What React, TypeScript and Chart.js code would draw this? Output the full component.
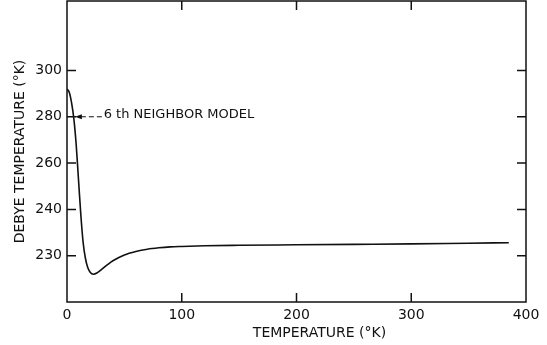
import React, { useEffect, useRef } from "react";
import { Chart, registerables } from "chart.js";

Chart.register(...registerables);

const temperatures = [0, 2, 4, 6, 8, 10, 12, 14, 16, 18, 20, 23, 26, 30, 35, 40, 50, 60, 70, 80, 90, 100, 120, 150, 200, 250, 300, 350, 385];
const debyeValues = [292, 290.5, 286, 279, 268, 253, 238, 226, 219, 215, 213, 212, 212.5, 214, 216, 217.8, 220.3, 221.8, 222.8, 223.4, 223.8, 224.0, 224.3, 224.5, 224.7, 224.9, 225.1, 225.4, 225.6];

const xTickValues = [0, 100, 200, 300, 400];
const yTickValues = [220, 240, 260, 280, 300];
const yTickLabels = ["230", "240", "260", "280", "300"];

const xTitle = "TEMPERATURE (°K)";
const yTitle = "DEBYE TEMPERATURE (°K)";
const annotationText = "6 th NEIGHBOR MODEL";
const annotationPoint = { x: 6, y: 280 };
const annotationTextX = 32;

const FONT = "'DejaVu Sans', 'Liberation Sans', sans-serif";

const framePlugin = {
  id: "frame",
  afterDraw(chart: any) {
    const { ctx, chartArea, scales } = chart;
    const xs = scales.x;
    const ys = scales.y;
    ctx.save();
    ctx.strokeStyle = "#111";
    ctx.lineWidth = 1.5;
    ctx.strokeRect(chartArea.left, chartArea.top, chartArea.right - chartArea.left, chartArea.bottom - chartArea.top);
    const tl = 9;
    ctx.beginPath();
    xTickValues.forEach((v) => {
      const px = xs.getPixelForValue(v);
      if (px <= chartArea.left + 1 || px >= chartArea.right - 1) return;
      ctx.moveTo(px, chartArea.bottom);
      ctx.lineTo(px, chartArea.bottom - tl);
      ctx.moveTo(px, chartArea.top);
      ctx.lineTo(px, chartArea.top + tl);
    });
    yTickValues.forEach((v) => {
      const py = ys.getPixelForValue(v);
      ctx.moveTo(chartArea.left, py);
      ctx.lineTo(chartArea.left + tl, py);
      ctx.moveTo(chartArea.right, py);
      ctx.lineTo(chartArea.right - tl, py);
    });
    ctx.stroke();

    // x axis title (slightly right of centre, as in the original)
    ctx.fillStyle = "#111";
    ctx.font = `14px ${FONT}`;
    ctx.textAlign = "center";
    ctx.textBaseline = "middle";
    ctx.fillText(xTitle, (chartArea.left + chartArea.right) / 2 + 23, 333);

    // annotation
    const tipX = xs.getPixelForValue(annotationPoint.x) + 1;
    const ay = ys.getPixelForValue(annotationPoint.y);
    const textX = xs.getPixelForValue(annotationTextX);
    ctx.beginPath();
    ctx.moveTo(tipX, ay);
    ctx.lineTo(tipX + 7, ay - 2.5);
    ctx.lineTo(tipX + 7, ay + 2.5);
    ctx.closePath();
    ctx.fill();
    ctx.lineWidth = 1;
    ctx.setLineDash([5, 3]);
    ctx.beginPath();
    ctx.moveTo(tipX + 6, ay);
    ctx.lineTo(textX - 1, ay);
    ctx.stroke();
    ctx.setLineDash([]);
    ctx.font = `13px ${FONT}`;
    ctx.textBaseline = "middle";
    ctx.textAlign = "left";
    ctx.fillText(annotationText, textX, ay - 2);
    ctx.restore();
  },
};

export default function App() {
  const canvasRef = useRef<HTMLCanvasElement | null>(null);

  useEffect(() => {
    if (!canvasRef.current) return;
    const chart = new Chart(canvasRef.current, {
      type: "line",
      data: {
        datasets: [
          {
            data: temperatures.map((t, i) => ({ x: t, y: debyeValues[i] })),
            borderColor: "#111",
            borderWidth: 1.6,
            pointRadius: 0,
            cubicInterpolationMode: "monotone",
            fill: false,
          },
        ],
      },
      options: {
        animation: false,
        responsive: false,
        maintainAspectRatio: false,
        layout: { padding: { left: 0, right: 21, top: 1, bottom: 0 } },
        plugins: { legend: { display: false }, tooltip: { enabled: false } },
        scales: {
          x: {
            type: "linear",
            min: 0,
            max: 400,
            afterBuildTicks: (scale: any) => {
              scale.ticks = xTickValues.map((v) => ({ value: v }));
            },
            afterFit: (scale: any) => {
              scale.height = 43;
              scale.paddingLeft = 0;
              scale.paddingRight = 0;
            },
            grid: { display: false, drawTicks: false },
            border: { display: false },
            ticks: {
              color: "#111",
              font: { family: FONT, size: 14 },
              padding: 5,
              maxRotation: 0,
              autoSkip: false,
              callback: (v: any) => String(v),
            },
            title: { display: false },
          },
          y: {
            type: "linear",
            min: 200,
            max: 330,
            afterBuildTicks: (scale: any) => {
              scale.ticks = yTickValues.map((v) => ({ value: v }));
            },
            afterFit: (scale: any) => {
              scale.width = 67;
              scale.paddingTop = 0;
              scale.paddingBottom = 0;
            },
            grid: { display: false, drawTicks: false },
            border: { display: false },
            ticks: {
              color: "#111",
              font: { family: FONT, size: 14 },
              padding: 5,
              autoSkip: false,
              callback: (v: any) => {
                const idx = yTickValues.indexOf(Number(v));
                return idx >= 0 ? yTickLabels[idx] : "";
              },
            },
            title: {
              display: true,
              text: yTitle,
              color: "#111",
              font: { family: FONT, size: 14 },
              padding: { top: 12, bottom: 0 },
            },
          },
        },
      },
      plugins: [framePlugin],
    } as any);
    return () => chart.destroy();
  }, []);

  return (
    <div style={{ position: "absolute", left: 0, top: 0, width: 547, height: 345, background: "#fff" }}>
      <canvas ref={canvasRef} width={547} height={345} style={{ width: 547, height: 345 }} />
    </div>
  );
}
